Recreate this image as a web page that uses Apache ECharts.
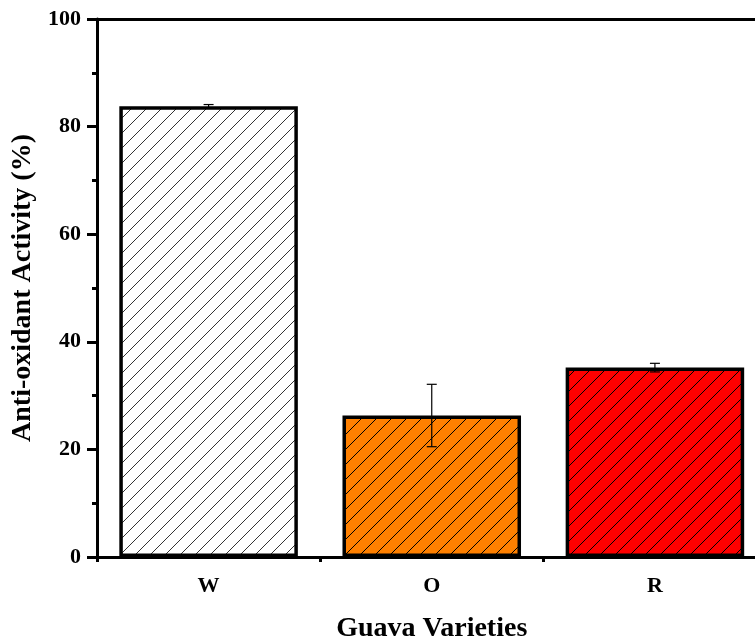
<!DOCTYPE html>
<html><head><meta charset="utf-8">
<script src="https://cdn.jsdelivr.net/npm/echarts@6/dist/echarts.min.js"></script>
<style>html,body{margin:0;padding:0;background:#fff}#c{width:755px;height:642px}</style>
</head><body><div id="c"></div>
<script>
const categories = ['W', 'O', 'R'];
const values = [83.8, 26.3, 35.2];
const errors = [0.3, 5.8, 0.8];
const fills = ['#FFFFFF', '#FF8000', '#FF0000'];
const hatchColors = ['#333333', '#000000', '#000000'];
const yTicks = [0, 20, 40, 60, 80, 100];

function hatch(bg, fg) {
  const s = 15;
  const c = document.createElement('canvas');
  c.width = s; c.height = s;
  const g = c.getContext('2d');
  g.fillStyle = bg; g.fillRect(0, 0, s, s);
  g.strokeStyle = fg; g.lineWidth = 1;
  g.beginPath();
  g.moveTo(-1, s + 1); g.lineTo(s + 1, -1);
  g.moveTo(-2, 2); g.lineTo(2, -2);
  g.moveTo(s - 2, s + 2); g.lineTo(s + 2, s - 2);
  g.stroke();
  return {image: c, repeat: 'repeat'};
}

const chart = echarts.init(document.getElementById('c'));
const font = 'Liberation Serif, Times New Roman, serif';
chart.setOption({
  animation: false,
  grid: {left: 97, right: -11.5, top: 19, bottom: 85, containLabel: false, outerBoundsMode: 'none'},
  xAxis: [{
    type: 'category', data: categories, position: 'bottom',
    name: 'Guava Varieties', nameLocation: 'middle', nameGap: 58,
    nameTextStyle: {fontFamily: font, fontWeight: 'bold', fontSize: 28, color: '#000'},
    axisLine: {onZero: false, lineStyle: {color: '#000', width: 3}},
    axisTick: {alignWithLabel: true, length: 10, lineStyle: {color: '#000', width: 3}},
    axisLabel: {fontFamily: font, fontWeight: 'bold', fontSize: 22, color: '#000', margin: 18}
  }, {
    type: 'value', position: 'bottom', min: -0.5, max: 2.5, interval: 1,
    axisLine: {show: false, onZero: false}, axisLabel: {show: false}, splitLine: {show: false},
    axisTick: {show: true, length: 5, lineStyle: {color: '#000', width: 3}}
  }, {
    type: 'category', data: categories, position: 'top',
    axisLine: {onZero: false, lineStyle: {color: '#000', width: 3}},
    axisTick: {alignWithLabel: true, inside: true, length: 9, lineStyle: {color: '#000', width: 3}},
    axisLabel: {show: false}
  }],
  yAxis: [{
    type: 'value', min: 0, max: 100, interval: 20, position: 'left',
    name: 'Anti-oxidant Activity (%)', nameLocation: 'middle', nameGap: 60,
    nameTextStyle: {fontFamily: font, fontWeight: 'bold', fontSize: 28, color: '#000'},
    axisLine: {show: true, onZero: false, lineStyle: {color: '#000', width: 3}},
    axisTick: {length: 10, lineStyle: {color: '#000', width: 3}},
    minorTick: {show: true, splitNumber: 2, length: 5, lineStyle: {color: '#000', width: 3}},
    axisLabel: {fontFamily: font, fontWeight: 'bold', fontSize: 22, color: '#000', margin: 16,
      formatter: v => yTicks.indexOf(v) >= 0 ? String(v) : ''},
    splitLine: {show: false}
  }],
  series: [{
    type: 'bar', xAxisIndex: 0, barWidth: '80%',
    data: values.map((v, i) => ({value: v, itemStyle: {color: hatch(fills[i], hatchColors[i])}})),
    itemStyle: {borderColor: '#000', borderWidth: 3.5}
  }, {
    type: 'custom', xAxisIndex: 0,
    data: values.map((v, i) => [i, v - errors[i], v + errors[i]]),
    renderItem: function (params, api) {
      const lo = api.coord([api.value(0), api.value(1)]);
      const hi = api.coord([api.value(0), api.value(2)]);
      const w = 5;
      const st = {stroke: '#000', lineWidth: 1.2};
      return {type: 'group', children: [
        {type: 'line', shape: {x1: hi[0], y1: hi[1], x2: lo[0], y2: lo[1]}, style: st},
        {type: 'line', shape: {x1: hi[0] - w, y1: hi[1], x2: hi[0] + w, y2: hi[1]}, style: st},
        {type: 'line', shape: {x1: lo[0] - w, y1: lo[1], x2: lo[0] + w, y2: lo[1]}, style: st}
      ]};
    },
    z: 10
  }]
});
</script></body></html>
